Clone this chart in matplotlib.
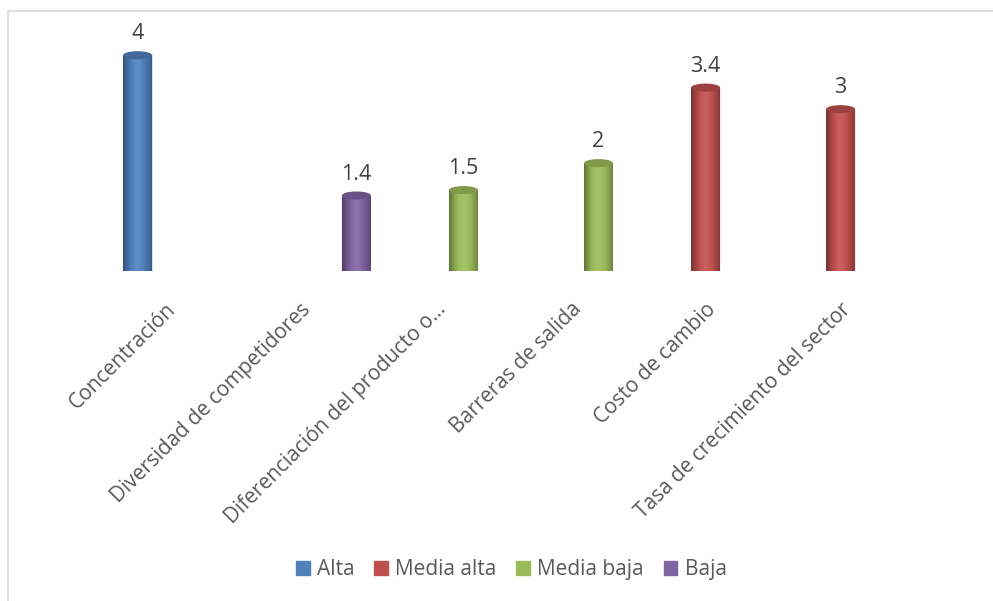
import numpy as np
import matplotlib; matplotlib.use("Agg")
import matplotlib.pyplot as plt
from matplotlib.patches import Ellipse, Rectangle, PathPatch
from matplotlib.path import Path
import matplotlib.colors as mcolors
import matplotlib.transforms as mtrans

plt.rcParams['font.family'] = ['Open Sans', 'DejaVu Sans']

# --- data ---
categories = ['Concentración', 'Diversidad de competidores', 'Diferenciación del producto o…',
              'Barreras de salida', 'Costo de cambio', 'Tasa de crecimiento del sector']
series = ['Alta', 'Media alta', 'Media baja', 'Baja']
alta       = [4, np.nan, np.nan, np.nan, np.nan, np.nan]
media_alta = [np.nan, np.nan, np.nan, np.nan, 3.4, 3]
media_baja = [np.nan, np.nan, 1.5, 2, np.nan, np.nan]
baja       = [np.nan, 1.4, np.nan, np.nan, np.nan, np.nan]
colors = ['#4F81BD', '#C0504D', '#9BBB59', '#8064A2']

fig = plt.figure(figsize=(9.93, 6.01), dpi=100)
ax = fig.add_axes([0.1128, 0.549, 0.8157, 0.404])
ax.set_xlim(-0.5, 5.5); ax.set_ylim(0, 4.5)

slot = 0.207; bw = 0.215; eh = 0.15
xs = np.arange(len(categories))

def shade(c, f):
    r = np.array(mcolors.to_rgb(c))
    return np.clip(r * f, 0, 1) if f < 1 else np.clip(r + (1 - r) * (f - 1), 0, 1)

prof = np.array([0.62, 0.75, 0.88, 0.98, 1.06, 1.1, 1.08, 1.03, 0.96, 0.88, 0.78, 0.66])
for s, (vals, col) in enumerate(zip([alta, media_alta, media_baja, baja], colors)):
    xpos = xs + (s - 1.5) * slot
    ax.bar(xpos, vals, bw, color=col, label=series[s], zorder=1)
    for x, v in zip(xpos, vals):
        if np.isnan(v):
            continue
        # cylinder body with rounded bottom
        t = np.linspace(np.pi, 2 * np.pi, 40)
        verts = list(zip(x + bw / 2 * np.cos(t), eh / 2 * np.sin(t)))
        verts += [(x + bw / 2, v), (x - bw / 2, v), verts[0]]
        codes = [Path.MOVETO] + [Path.LINETO] * (len(verts) - 2) + [Path.CLOSEPOLY]
        body = PathPatch(Path(verts, codes), facecolor=col, edgecolor='none', zorder=2)
        ax.add_patch(body)
        grad = np.array([shade(col, f) for f in np.interp(np.linspace(0, 11, 60), np.arange(12), prof)])
        im = ax.imshow(grad[None, :, :], extent=[x - bw / 2, x + bw / 2, -eh, v], aspect='auto',
                       interpolation='bilinear', zorder=3)
        im.set_clip_path(body)
        ax.add_patch(Ellipse((x, v), bw, eh, facecolor=shade(col, 0.82), edgecolor='none', zorder=4))
        ax.text(x, v + 0.2, f'{v:g}', ha='center', va='bottom', fontsize=15.5, color='#404040')

ax.set_xlim(-0.5, 5.5); ax.set_ylim(0, 4.5)
for sp in ax.spines.values():
    sp.set_visible(False)
ax.set_yticks([])
ax.set_xticks(xs)
ax.set_xticklabels(categories, rotation=45, ha='right', rotation_mode='anchor',
                   fontsize=15, color='#595959')
ax.tick_params(axis='x', length=0, pad=20)
off = mtrans.ScaledTranslation(-14 / 100, 0, fig.dpi_scale_trans)
for lab in ax.get_xticklabels():
    lab.set_transform(lab.get_transform() + off)

h = [Rectangle((0, 0), 1, 1, color=c) for c in colors]
fig.legend(h, series, loc='center', bbox_to_anchor=(0.515, 0.052), ncol=4, frameon=False,
           fontsize=15, handlelength=0.65, handleheight=0.65, handletextpad=0.35, columnspacing=0.95,
           labelcolor='#595959')

fig.add_artist(Rectangle((7.5 / 993, -0.1), 1.2, 1.1 - 11 / 601, transform=fig.transFigure,
                         fill=False, edgecolor='#D9D9D9', lw=1.2))

fig.savefig('out.png', dpi=100)
